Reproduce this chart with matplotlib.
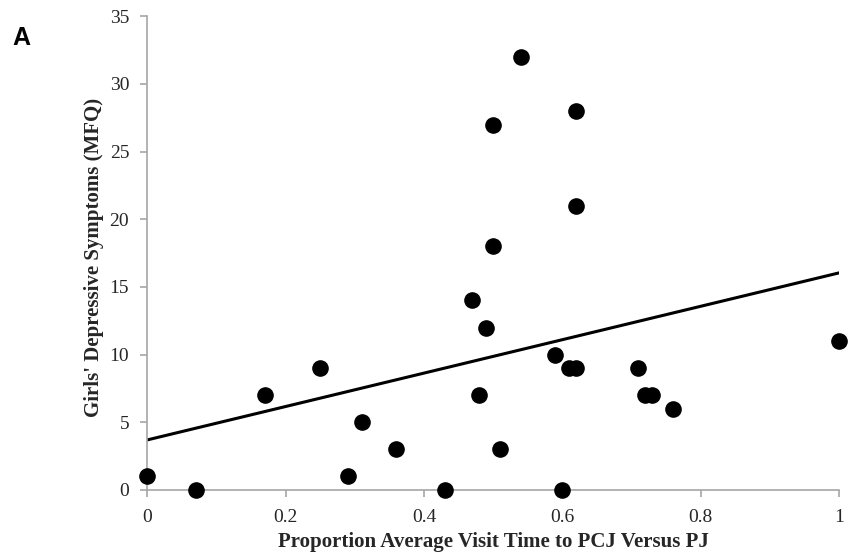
import numpy as np
import matplotlib.pyplot as plt

# proportion of visit time (x) and MFQ score (y)
visit_prop = [0.0, 0.07, 0.17, 0.25, 0.29, 0.31, 0.36, 0.43, 0.47, 0.48, 0.49, 0.50, 0.50,
              0.51, 0.54, 0.59, 0.60, 0.61, 0.62, 0.62, 0.62, 0.71, 0.72, 0.73, 0.76, 1.0]
mfq = [1, 0, 7, 9, 1, 5, 3, 0, 14, 7, 12, 18, 27,
       3, 32, 10, 0, 9, 9, 28, 21, 9, 7, 7, 6, 11]

xticks = [0, 0.2, 0.4, 0.6, 0.8, 1]
xtick_labels = ['0', '0.2', '0.4', '0.6', '0.8', '1']
yticks = [0, 5, 10, 15, 20, 25, 30, 35]

plt.rcParams['font.family'] = ['Liberation Serif', 'DejaVu Serif']

fig = plt.figure(figsize=(8.51, 5.60), dpi=100)
ax = fig.add_axes([0.173, 0.125, 0.813, 0.846])

ax.scatter(visit_prop, mfq, s=120, color='black', zorder=3, clip_on=False)

# linear trend line
slope, intercept = np.polyfit(visit_prop, mfq, 1)
xs = np.array([0, 1])
ax.plot(xs, intercept + slope * xs, color='black', lw=2.2)

ax.set_xlim(0, 1)
ax.set_ylim(0, 35)
ax.set_xticks(xticks)
ax.set_xticklabels(xtick_labels)
ax.set_yticks(yticks)

for s in ['top', 'right']:
    ax.spines[s].set_visible(False)
for s in ['left', 'bottom']:
    ax.spines[s].set_color('#a6a6a6')
    ax.spines[s].set_linewidth(1.2)
ax.tick_params(colors='#a6a6a6', labelcolor='#262626', labelsize=14,
               length=5, width=1.2, direction='out')
ax.tick_params(axis='x', pad=9)
ax.tick_params(axis='y', pad=8)

ax.set_xlabel('Proportion Average Visit Time to PCJ Versus PJ', fontsize=15,
              fontweight='bold', color='#262626')
ax.xaxis.set_label_coords(0.5, -0.088)
ax.set_ylabel("Girls' Depressive Symptoms (MFQ)", fontsize=15,
              fontweight='bold', color='#262626')
ax.yaxis.set_label_coords(-0.062, 0.49)

fig.text(0.015, 1 - 45 / 560, 'A', fontsize=18, fontweight='bold',
         family='Liberation Sans', va='baseline')

fig.savefig('out.png', dpi=100)
